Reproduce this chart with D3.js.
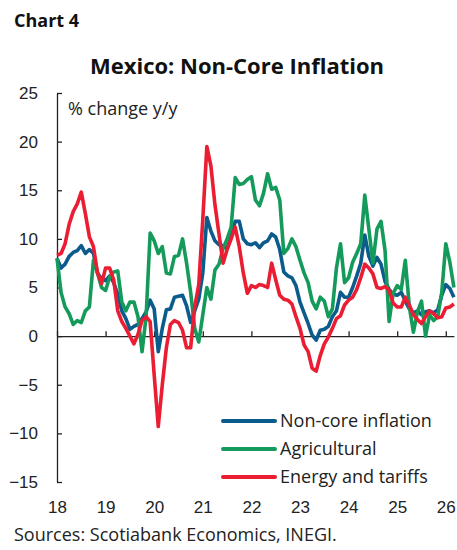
<!DOCTYPE html>
<html>
<head>
<meta charset="utf-8">
<script src="https://cdn.jsdelivr.net/npm/d3@7"></script>
<style>
  body { margin: 0; background: #fff; }
  svg { display: block; font-family: "Open Sans", "Noto Sans", sans-serif; }
</style>
</head>
<body>
<script>
// monthly readings, Jan 2018 onward
const startYear = 2018;
const yearTicks = [2018, 2019, 2020, 2021, 2022, 2023, 2024, 2025, 2026];
const yTicks = [-15, -10, -5, 0, 5, 10, 15, 20, 25];

const nonCore = [
  8.0, 7.0, 7.4, 8.2, 8.6, 8.8, 9.3, 8.5, 8.9, 8.5, 6.5, 5.9,
  5.7, 6.2, 5.5, 4.3, 2.6, 1.8, 0.7, 1.0, 1.2, 1.8, 2.5, 3.7,
  2.8, -1.6, 0.8, 2.7, 2.8, 4.0, 4.1, 4.2, 3.1, 1.4, 2.6, 3.8,
  6.5, 12.2, 10.8, 9.8, 9.4, 9.3, 9.0, 10.2, 11.8, 11.8, 10.0, 9.5,
  9.4, 9.6, 9.1, 9.6, 9.8, 10.5, 10.2, 8.9, 6.6, 6.2, 6.0, 5.2,
  3.5, 2.4, 1.3, 0.1, -0.4, 0.6, 0.7, 1.0, 2.0, 2.6, 4.5, 4.0,
  4.0, 5.0, 6.2, 7.5, 10.4, 8.2, 7.2, 8.1, 7.4, 5.6, 4.8, 4.3,
  4.2, 4.5, 3.6, 2.8, 2.4, 2.6, 2.2, 2.5, 2.6, 2.4, 2.7, 4.2,
  5.3, 4.9, 4.0
];
const agricultural = [
  8.0, 4.5, 3.0, 2.3, 1.2, 1.6, 1.4, 2.6, 3.0, 7.8, 6.5, 5.0,
  4.7, 6.1, 6.6, 6.7, 3.5, 2.6, 3.5, 3.5, 2.0, -1.6, 2.0, 10.6,
  9.8, 8.5, 9.2, 6.5, 6.4, 8.2, 8.3, 10.0, 7.5, 4.5, 0.8, -0.6,
  2.2, 5.0, 3.8, 6.8, 7.4, 9.0, 10.0, 11.2, 16.3, 15.6, 15.7, 16.1,
  16.4, 14.0, 13.4, 14.7, 16.7, 15.1, 15.3, 14.0, 8.5, 9.0, 10.0, 9.2,
  7.8, 6.5, 5.5, 3.6, 2.8, 4.0, 3.6, 2.0, 2.8, 7.0, 9.5, 5.5,
  6.0, 7.6, 8.5, 9.5, 14.5, 11.0, 7.5, 11.0, 11.8, 8.8, 1.5, 4.4,
  5.2, 4.8, 7.8, 3.0, 0.4, 2.5, 3.6, 0.0, 2.2, 1.6, 2.0, 4.5,
  9.5, 7.6, 5.0
];
const energyTariffs = [
  8.3, 8.5, 9.5, 11.5, 12.8, 13.6, 14.8, 12.6, 10.2, 9.2, 6.5, 5.4,
  7.0, 7.0, 5.8, 2.6, 1.5, 0.8, 0.0, -0.8, 0.2, 1.6, 2.0, 1.5,
  -4.0, -9.3, -5.0, -1.2, 1.2, 1.6, 1.4, 0.6, -1.2, -1.2, 3.0, 5.3,
  12.0, 19.5, 17.5, 13.5, 10.5, 7.5, 8.9, 10.0, 11.2, 9.2, 6.5, 4.4,
  5.2, 5.0, 5.3, 5.2, 5.0, 7.5, 5.8, 4.2, 3.8, 3.7, 3.3, 2.0,
  0.8, -0.9, -1.6, -3.3, -3.6, -2.0, -0.8, -0.1, 0.8, 1.8, 2.1, 3.2,
  3.7, 4.0, 4.8, 6.0, 7.4, 7.0, 6.4, 5.0, 4.9, 5.1, 4.7, 3.4,
  3.0, 3.0, 4.0, 3.2, 2.2, 1.7, 1.3, 2.0, 2.6, 2.3, 1.9, 2.0,
  2.9, 3.0, 3.3
];

const seriesNames = ["Non-core inflation", "Agricultural", "Energy and tariffs"];
const seriesColors = ["#0b5b8c", "#149a5b", "#ea1d33"];
const seriesData = [nonCore, agricultural, energyTariffs];

const W = 457, H = 550;
const svg = d3.select("body").append("svg").attr("width", W).attr("height", H);

const lastT = startYear + (nonCore.length - 1) / 12;
const x = d3.scaleLinear().domain([startYear, lastT]).range([57, 57 + 48.6 * (lastT - startYear)]);
const y = d3.scaleLinear().domain([-15, 25]).range([482, 93]);

svg.append("text").attr("x", 14).attr("y", 27)
    .attr("font-size", 18).attr("font-weight", "bold").attr("fill", "#111")
    .text("Chart 4");

svg.append("text").attr("x", 237).attr("y", 74).attr("text-anchor", "middle")
    .attr("font-size", 22).attr("font-weight", "bold").attr("fill", "#111")
    .text("Mexico: Non-Core Inflation");

// y axis, ticks pointing inward
let yAxis = svg.append("g").attr("transform", `translate(${x(startYear)},0)`)
    .call(d3.axisLeft(y).tickValues(yTicks).tickSizeInner(-5).tickSizeOuter(0).tickPadding(19));
yAxis.selectAll("text").attr("font-size", 17).attr("fill", "#222").attr("font-family", null);
yAxis.selectAll("line, path").attr("stroke", "#222").attr("stroke-width", 1.3);

// x axis sits on zero, labels at the bottom
let xAxis = svg.append("g").attr("transform", `translate(0,${y(0)})`)
    .call(d3.axisBottom(x).tickValues(yearTicks).tickSizeInner(-5).tickSizeOuter(0)
        .tickFormat(d => String(d).slice(2)));
xAxis.selectAll("text").attr("font-size", 17).attr("fill", "#222").attr("font-family", null)
    .attr("y", y(-15) - y(0) + 19).attr("dy", "0.71em");
xAxis.selectAll("line, path").attr("stroke", "#222").attr("stroke-width", 1.3);

svg.append("text").attr("x", 68).attr("y", 115)
    .attr("font-size", 18).attr("fill", "#222")
    .text("% change y/y");

const line = d3.line().x((d, i) => x(startYear + i / 12)).y(d => y(d));

seriesData.forEach((s, k) => {
    svg.append("path").datum(s)
        .attr("fill", "none")
        .attr("stroke", seriesColors[k])
        .attr("stroke-width", 3.6)
        .attr("stroke-linejoin", "round")
        .attr("d", line);
});

// legend
let legend = svg.append("g");
seriesNames.forEach((name, k) => {
    let ly = 421 + k * 28;
    legend.append("line").attr("x1", 223).attr("x2", 275).attr("y1", ly).attr("y2", ly)
        .attr("stroke", seriesColors[k]).attr("stroke-width", 4).attr("stroke-linecap", "round");
    legend.append("text").attr("x", 280).attr("y", ly).attr("dy", "0.35em")
        .attr("font-size", 18).attr("fill", "#222").text(name);
});

svg.append("text").attr("x", 14).attr("y", 541)
    .attr("font-size", 18).attr("fill", "#222")
    .text("Sources: Scotiabank Economics, INEGI.");
</script>
</body>
</html>
